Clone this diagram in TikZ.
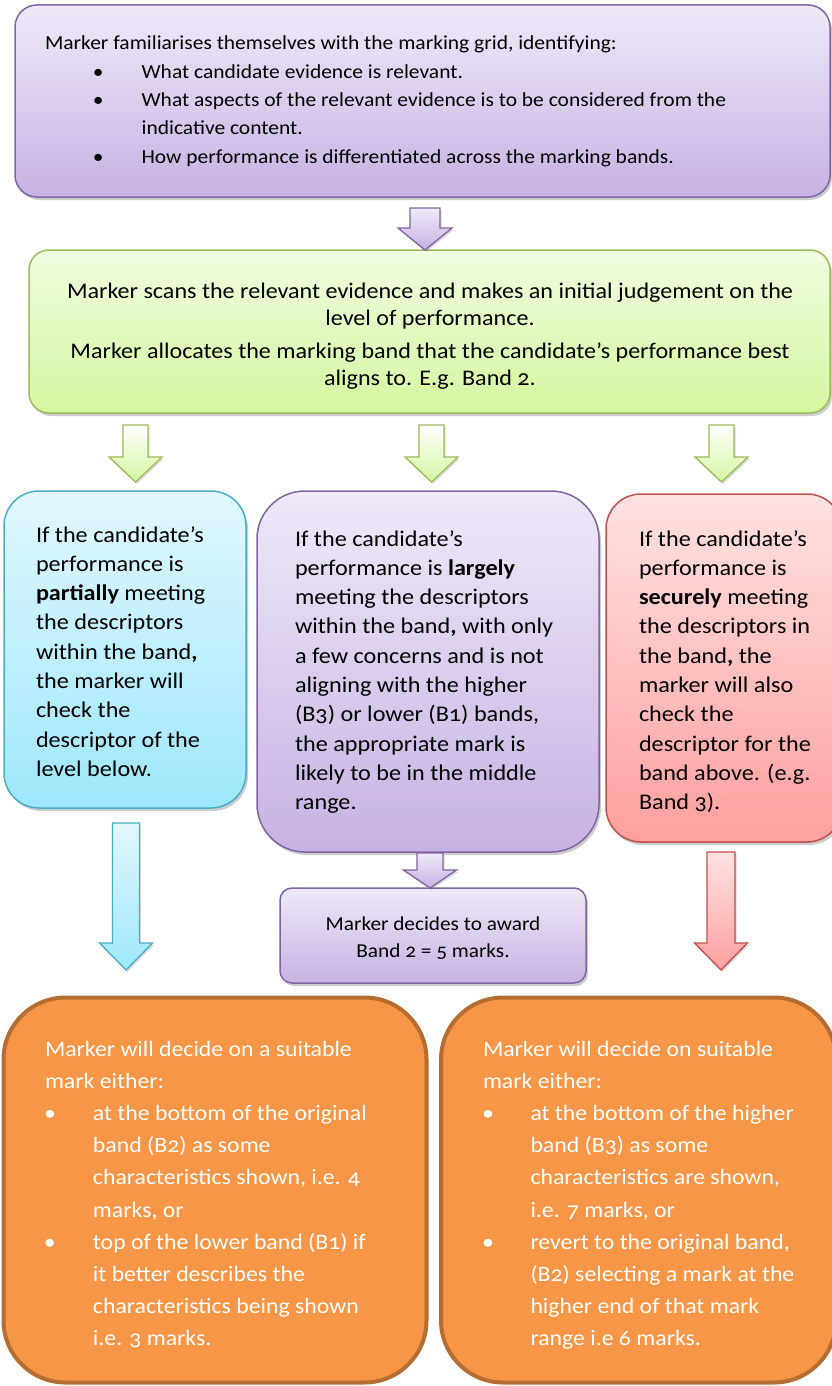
\documentclass[tikz,border=0pt]{standalone}
\usepackage{fontspec}
\setmainfont{Carlito}[FakeStretch=1.08,Numbers=OldStyle]
\usetikzlibrary{shadows}
\definecolor{pTop}{HTML}{EFE9F8}
\definecolor{pBot}{HTML}{C6B2E2}
\definecolor{pLine}{HTML}{8064A2}
\definecolor{gTop}{HTML}{F0FDE0}
\definecolor{gBot}{HTML}{D5F6A0}
\definecolor{gLine}{HTML}{9BBB59}
\definecolor{cTop}{HTML}{E2F8FD}
\definecolor{cBot}{HTML}{9DE7FB}
\definecolor{cLine}{HTML}{4BACC6}
\definecolor{rTop}{HTML}{FEE2E2}
\definecolor{rBot}{HTML}{FF9F9F}
\definecolor{rLine}{HTML}{C0504D}
\definecolor{oFill}{HTML}{F79646}
\definecolor{oLine}{HTML}{B66D31}
\tikzset{
  shad/.style={drop shadow={shadow xshift=2pt, shadow yshift=-3pt, opacity=0.28, fill=black!70}},
  lshad/.style={drop shadow={shadow xshift=1.5pt, shadow yshift=-2pt, opacity=0.2, fill=black!70}},
  pbox/.style={draw=pLine, line width=1.5pt, top color=pTop, bottom color=pBot, shad},
  gbox/.style={draw=gLine, line width=1.5pt, top color=gTop, bottom color=gBot, shad},
  cbox/.style={draw=cLine, line width=1.5pt, top color=cTop, bottom color=cBot, shad},
  rbox/.style={draw=rLine, line width=1.5pt, top color=rTop, bottom color=rBot, shad},
  obox/.style={draw=oLine, line width=4pt, fill=oFill},
  parrow/.style={draw=pLine, line width=1.3pt, top color=pTop, bottom color=pBot, lshad},
  garrow/.style={draw=gLine, line width=1.3pt, top color=white, bottom color=gBot, lshad},
  carrow/.style={draw=cLine, line width=1.3pt, top color=cTop, bottom color=cBot, lshad},
  rarrow/.style={draw=rLine, line width=1.3pt, top color=rTop, bottom color=rBot, lshad},
  txt/.style={anchor=base west, inner sep=0pt, outer sep=0pt},
  ctxt/.style={anchor=base, inner sep=0pt, outer sep=0pt},
}
% style, cx, ytop, yhead, ytip, half shaft, half head
\newcommand\blockarrow[7]{%
  \path[#1] (#2-#6,#3) -- (#2+#6,#3) -- (#2+#6,#4) -- (#2+#7,#4) -- (#2,#5)
    -- (#2-#7,#4) -- (#2-#6,#4) -- cycle;}
\newcommand\bitem[3]{\hspace*{#1}\makebox[#2][l]{•}#3}
\begin{document}
\begin{tikzpicture}[x=1pt,y=-1pt]
\useasboundingbox (0,0) rectangle (832,1386);

% boxes
\node[pbox, rounded corners=22pt, minimum width=815pt, minimum height=192pt] (top) at (422.5,101) {};
\node[gbox, rounded corners=20pt, minimum width=801pt, minimum height=163pt] (scan) at (429.5,331.5) {};
\node[cbox, rounded corners=35pt, minimum width=242pt, minimum height=317pt] (part) at (125,649.5) {};
\node[pbox, rounded corners=48pt, minimum width=342pt, minimum height=361pt] (larg) at (428,671.5) {};
\node[rbox, rounded corners=35pt, minimum width=236pt, minimum height=348pt] (secu) at (724,668) {};
\node[pbox, rounded corners=12pt, minimum width=306pt, minimum height=95pt] (award) at (433,935.5) {};
\node[obox, rounded corners=62pt, minimum width=423pt, minimum height=385pt] (lowd) at (215,1190) {};
\node[obox, rounded corners=62pt, minimum width=395pt, minimum height=385pt] (high) at (638.5,1190) {};

% arrows
\blockarrow{parrow}{425}{208}{228}{250}{15}{27}
\blockarrow{garrow}{135.5}{425}{457}{482}{12.5}{26.5}
\blockarrow{garrow}{431.5}{425}{457}{482}{12.5}{26.5}
\blockarrow{garrow}{721.5}{425}{457}{482}{12.5}{26.5}
\blockarrow{carrow}{126}{823}{943}{970}{13.5}{26.5}
\blockarrow{parrow}{430}{853}{870}{888}{13}{26.5}
\blockarrow{rarrow}{721}{852}{943}{970}{14}{26.5}

% texts
\node[txt] (ttop) at (45,50) {\begin{minipage}[t]{780pt}\fontsize{19.9pt}{28.3pt}\selectfont\raggedright
Marker familiarises themselves with the marking grid, identifying:\\
\bitem{48pt}{48.6pt}{What candidate evidence is relevant.}\\
\bitem{48pt}{48.6pt}{What aspects of the relevant evidence is to be considered from the}\\
\hspace*{96.6pt}indicative content.\\
\bitem{48pt}{48.6pt}{How performance is differentiated across the marking bands.}
\end{minipage}};

\node[ctxt] (tscan) at (430,298) {\begin{minipage}[t]{800pt}\fontsize{22.3pt}{27pt}\selectfont\centering
Marker scans the relevant evidence and makes an initial judgement on the\\
level of performance.\\[6pt]
Marker allocates the marking band that the candidate’s performance best\\
aligns to. E.g. Band 2.
\end{minipage}};

\node[txt] (tpart) at (36,542) {\begin{minipage}[t]{205pt}\fontsize{22.4pt}{29.3pt}\selectfont\raggedright
If the candidate’s\\
performance is\\
\textbf{partially} meeting\\
the descriptors\\
within the band\textbf{,}\\
the marker will\\
check the\\
descriptor of the\\
level below.
\end{minipage}};

\node[txt] (tlarg) at (295,546) {\begin{minipage}[t]{290pt}\fontsize{22.4pt}{29.3pt}\selectfont\raggedright
If the candidate’s\\
performance is \textbf{largely}\\
meeting the descriptors\\
within the band\textbf{,} with only\\
a few concerns and is not\\
aligning with the higher\\
(B3) or lower (B1) bands,\\
the appropriate mark is\\
likely to be in the middle\\
range.
\end{minipage}};

\node[txt] (tsecu) at (639,546) {\begin{minipage}[t]{190pt}\fontsize{22.4pt}{29.3pt}\selectfont\raggedright
If the candidate’s\\
performance is\\
\textbf{securely} meeting\\
the descriptors in\\
the band\textbf{,} the\\
marker will also\\
check the\\
descriptor for the\\
band above. (e.g.\\
Band 3).
\end{minipage}};

\node[ctxt] (taward) at (433,930) {\begin{minipage}[t]{300pt}\fontsize{19.7pt}{27pt}\selectfont\centering
Marker decides to award\\
Band 2 = 5 marks.
\end{minipage}};

\node[txt, text=white] (tlowd) at (45,1056) {\begin{minipage}[t]{380pt}\fontsize{22pt}{32.2pt}\selectfont\raggedright
Marker will decide on a suitable\\
mark either:\\
\bitem{-1pt}{49pt}{at the bottom of the original}\\
\hspace*{48pt}band (B2) as some\\
\hspace*{48pt}characteristics shown, i.e. 4\\
\hspace*{48pt}marks, or\\
\bitem{-1pt}{49pt}{top of the lower band (B1) if}\\
\hspace*{48pt}it better describes the\\
\hspace*{48pt}characteristics being shown\\
\hspace*{48pt}i.e. 3 marks.
\end{minipage}};

\node[txt, text=white] (thigh) at (483,1056) {\begin{minipage}[t]{345pt}\fontsize{22pt}{32.2pt}\selectfont\raggedright
Marker will decide on suitable\\
mark either:\\
\bitem{-1pt}{48.5pt}{at the bottom of the higher}\\
\hspace*{47.5pt}band (B3) as some\\
\hspace*{47.5pt}characteristics are shown,\\
\hspace*{47.5pt}i.e. 7 marks, or\\
\bitem{-1pt}{48.5pt}{revert to the original band,}\\
\hspace*{47.5pt}(B2) selecting a mark at the\\
\hspace*{47.5pt}higher end of that mark\\
\hspace*{47.5pt}range i.e 6 marks.
\end{minipage}};
\end{tikzpicture}
\end{document}
